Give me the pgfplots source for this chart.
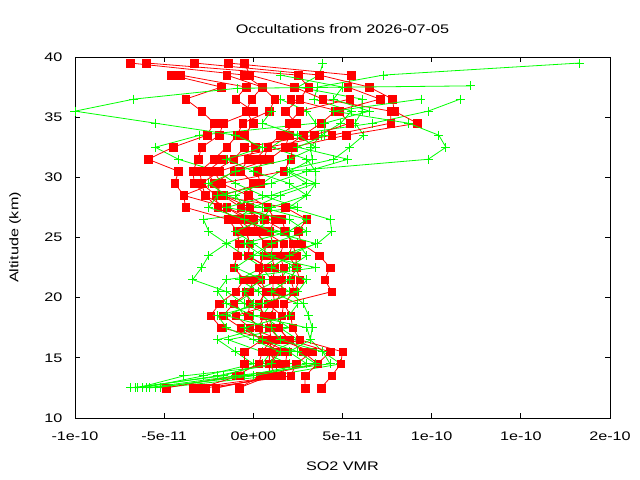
\documentclass[border=0pt]{standalone}
\usepackage{fontspec}
\setmainfont{Liberation Sans}[FakeStretch=1.3]
\usepackage{pgfplots}
\usepackage{pgfplotstable}
\pgfplotsset{compat=1.18}
\definecolor{gpred}{RGB}{255,0,0}
\definecolor{gpgreen}{RGB}{0,255,0}

% SO2 VMR values in units of 1e-11, altitude in km
\pgfplotstableread{
alt r1 r2 r3 r4 r5 r6 r7 r8 r9 r10
39.5 -6.9 -6.0 -3.3 -1.4 -0.5 nan nan nan nan nan
38.5 -0.5 2.5 3.7 5.5 -0.2 -4.6 -4.1 -1.5 nan nan
37.5 0.5 3.1 6.5 5.3 2.3 -1.8 -0.4 0.5 nan nan
36.5 -0.1 2.6 7.8 7.1 3.9 -3.8 -1.0 1.2 2.1 5.4
35.5 -0.4 1.8 7.9 4.6 7.7 -2.9 0.0 0.9 4.8 2.6
34.5 0.0 2.4 9.2 3.8 7.7 -2.2 -1.7 -0.6 5.4 2.0
33.5 -0.5 1.5 5.2 2.8 4.4 -2.6 -1.9 -0.9 3.4 2.0
32.5 0.1 0.8 2.2 1.8 0.8 -4.5 -2.9 -1.5 -0.5 1.8
31.5 -0.3 0.6 2.1 0.9 0.1 -5.9 -3.1 -2.2 -1.1 -1.7
30.5 -0.7 0.2 1.7 -1.1 -1.9 -4.2 -3.4 -3.0 -2.2 -2.6
29.5 0.0 0.4 -1.8 -2.2 -2.9 -4.4 -3.3 -2.9 -1.8 -2.2
28.5 -0.3 -1.7 -2.1 -1.7 -2.7 -3.9 -2.7 -2.1 -0.3 -3.9
27.5 0.8 -0.2 1.8 -0.7 -2.0 -3.8 -1.5 -2.0 -0.7 -1.5
26.5 1.2 0.0 3.0 0.6 -0.9 -1.4 -0.4 -0.9 1.6 0.0
25.5 0.9 0.1 2.5 1.8 -0.4 -0.9 0.6 0.1 1.8 -0.4
24.5 1.1 0.7 2.7 2.2 -0.2 -0.8 1.7 0.7 2.2 -0.2
23.5 1.0 0.6 3.7 2.4 -0.3 -0.9 1.5 0.6 2.0 -0.3
22.5 1.2 0.3 4.3 2.4 0.8 -1.1 1.7 0.3 2.4 0.8
21.5 1.1 0.4 4.0 2.6 0.0 -0.5 1.6 0.4 2.1 0.0
20.5 1.1 0.7 4.4 2.3 -0.2 -1.0 1.6 -0.4 2.3 0.7
19.5 1.2 0.3 1.7 0.8 -1.1 -1.9 1.2 -0.2 1.7 0.3
18.5 1.0 0.6 2.1 1.6 -1.7 -2.4 -1.0 -0.3 1.6 0.6
17.5 0.9 0.3 2.2 1.4 -0.7 -1.8 -0.2 0.3 1.4 0.9
16.5 1.0 0.5 2.6 2.0 0.5 1.0 1.5 0.5 2.0 1.5
15.5 0.9 1.4 5.0 4.3 -0.5 0.5 3.3 1.9 2.8 0.9
14.5 1.3 0.9 4.9 3.6 -0.5 0.3 2.4 1.8 3.6 0.9
13.5 1.3 0.9 4.4 2.9 -0.8 -1.0 2.1 1.6 0.4 1.3
12.5 -2.1 -0.8 3.8 2.9 -3.0 -4.9 -2.7 -3.4 -0.8 -2.1
}\redtab

\pgfplotstableread{
alt g1 g2 g3 g4 g5 g6 g7
39.5 18.3 3.9 nan nan nan nan nan
38.5 7.3 3.7 nan nan nan 1.5 nan
37.5 3.6 2.5 nan nan nan 5.0 nan
36.5 3.4 6.1 11.6 1.5 9.4 4.5 nan
35.5 5.5 6.1 9.8 3.0 4.5 6.5 1.0
34.5 4.9 5.7 6.7 3.5 8.7 4.0 0.5
33.5 3.8 6.2 2.0 -3.0 10.4 4.0 2.5
32.5 3.2 5.4 1.0 -5.5 10.8 2.5 3.5
31.5 3.3 4.5 3.0 -4.2 9.8 5.3 2.0
30.5 2.0 1.5 3.5 -2.0 1.9 3.0 -1.0
29.5 3.5 0.5 3.5 -1.0 3.0 1.0 -2.5
28.5 3.0 -1.0 1.5 0.5 1.0 -2.0 -1.5
27.5 2.0 -0.5 0.0 2.5 -1.5 -2.5 0.5
26.5 4.3 1.0 -1.0 -2.8 2.0 -0.5 3.0
25.5 4.4 0.0 1.5 -2.5 3.0 1.0 2.0
24.5 3.6 -1.5 2.5 -1.5 1.0 3.5 -0.5
23.5 1.5 -0.5 3.0 -2.5 0.0 2.0 0.5
22.5 0.5 0.5 2.0 -2.9 -1.0 1.0 3.5
21.5 1.0 -0.8 1.5 -3.4 0.5 3.0 -1.5
20.5 2.0 0.3 0.0 -1.5 -0.5 2.5 -2.0
19.5 2.8 1.0 -1.0 -0.5 0.0 0.5 -1.5
18.5 3.1 0.5 -0.5 1.0 -1.5 -2.0 0.0
17.5 3.3 1.5 0.5 2.0 1.0 -1.5 3.0
16.5 3.2 2.5 -2.0 -1.4 1.5 0.0 3.2
15.5 3.9 1.0 -1.0 0.5 3.9 1.5 2.0
14.5 4.9 0.5 0.0 2.0 4.3 1.0 3.0
13.5 1.0 -1.7 -2.8 -3.9 -1.0 -2.0 -0.5
12.5 -5.2 -6.9 -6.2 -6.5 -6.0 -6.6 -5.5
}\greentab

\pgfplotstableread{
alt x
37.6 12.2
37.4 -0.9
36.5 -6.7
35.5 -10.0
34.5 -5.5
33.5 -1.0
32.5 0.5
31.5 -1.5
30.5 0.0
29.5 2.0
28.5 3.0
27.5 1.0
26.5 0.5
25.5 -1.0
24.5 0.0
23.5 1.0
22.5 2.5
21.5 2.0
20.5 1.0
19.5 2.5
18.5 2.0
17.5 -0.5
16.5 0.5
15.5 2.5
14.5 3.5
13.5 0.0
12.5 -5.8
}\greenextra

\pgfplotsset{
  redprof/.style={color=gpred, line width=0.8bp, mark=square*, mark size=3.8bp,
    mark options={solid, fill=gpred, draw=gpred, line width=0.4bp}},
  greenprof/.style={color=gpgreen, line width=0.8bp, mark=+, mark size=4.5bp,
    mark options={solid, line width=0.9bp}},
}

\begin{document}
\begin{tikzpicture}
\path[use as bounding box] (0,0) rectangle (640bp,480bp);
\begin{axis}[
  at={(75bp,62bp)}, anchor=south west,
  scale only axis, width=535bp, height=361bp,
  xmin=-1e-10, xmax=2e-10, ymin=10, ymax=40,
  xtick={-1e-10,-5e-11,0,5e-11,1e-10,1.5e-10,2e-10},
  xticklabels={-1e-10,-5e-11,0e+00,5e-11,1e-10,1e-10,2e-10},
  scaled x ticks=false,
  ytick={10,15,20,25,30,35,40},
  /pgf/number format/assume math mode=true,
  tick align=inside, major tick length=5bp,
  tick style={black, line width=0.8bp},
  axis line style={black, line width=0.9bp},
  tick label style={font=\fontsize{12.5}{15}\selectfont},
  yticklabel style={xshift=-9bp},
  xticklabel style={yshift=-10bp},
  title={Occultations from 2026-07-05},
  title style={font=\fontsize{12.5}{15}\selectfont, at={(axis description cs:0.5,1.061)}, anchor=center},
  xlabel={SO2 VMR},
  xlabel style={font=\fontsize{12.5}{15}\selectfont, at={(axis description cs:0.5,-0.133)}, anchor=center},
  ylabel={Altitude (km)},
  ylabel style={font=\fontsize{12.5}{15}\selectfont, at={(axis description cs:-0.112,0.5)}, anchor=center},
  unbounded coords=jump,
  clip mode=individual,
]
\pgfplotsinvokeforeach{1,2,3,4}{
  \addplot[greenprof] table[x expr=\thisrow{g#1}*1e-11, y=alt]{\greentab};
}
\pgfplotsinvokeforeach{1,2,3,4,5,6,7,8,9,10}{
  \addplot[redprof] table[x expr=\thisrow{r#1}*1e-11, y=alt]{\redtab};
}
\pgfplotsinvokeforeach{5,6,7}{
  \addplot[greenprof] table[x expr=\thisrow{g#1}*1e-11, y=alt]{\greentab};
}
\addplot[greenprof] table[x expr=\thisrow{x}*1e-11, y=alt]{\greenextra};
\end{axis}
\end{tikzpicture}
\end{document}
